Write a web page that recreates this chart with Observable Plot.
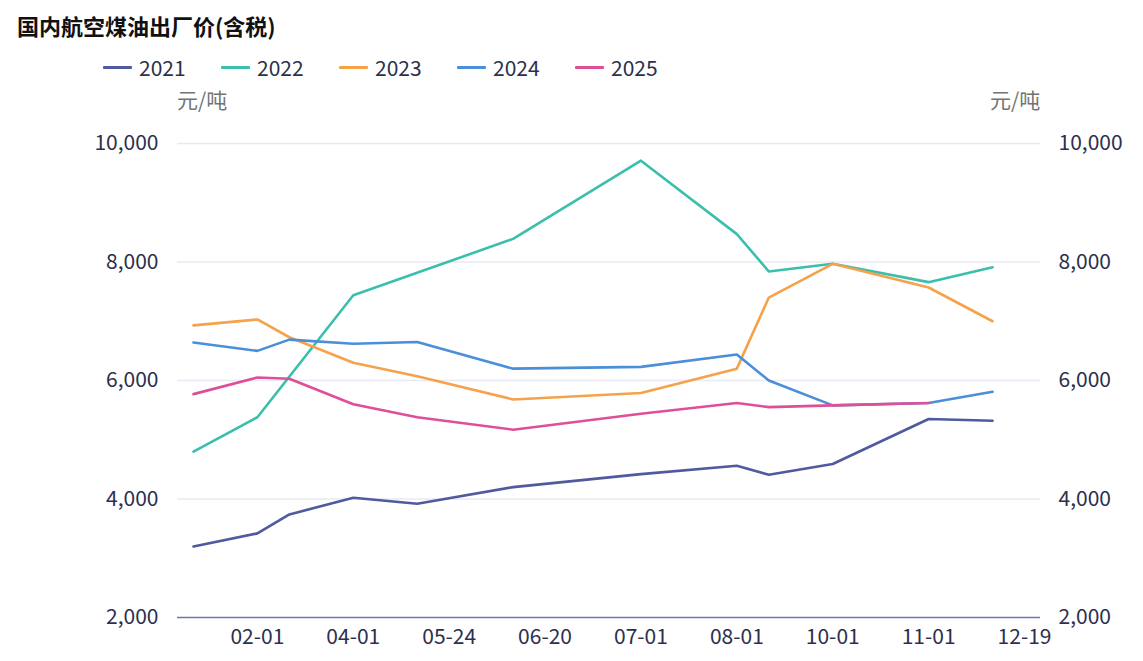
<!DOCTYPE html>
<html>
<head>
<meta charset="utf-8">
<script src="https://cdn.jsdelivr.net/npm/d3@7"></script>
<script src="https://cdn.jsdelivr.net/npm/@observablehq/plot@0.6"></script>
<style>
  html, body { margin: 0; padding: 0; background: #fff; }
  body { width: 1143px; height: 661px; position: relative; overflow: hidden;
         font-family: "Noto Sans CJK SC", "Noto Sans", sans-serif; }
  #title { position: absolute; left: 17px; top: 12px; font-size: 22px; font-weight: bold; color: #111; line-height: 1.2; }
  #legend { position: absolute; left: 103px; top: 54px; height: 26px; display: flex; }
  .item { width: 118px; display: flex; align-items: center; font-size: 21px; color: #2c2f4d; line-height: 26px; }
  .sw { width: 29px; height: 3px; margin-right: 7px; border-radius: 1px; }
  .unit { position: absolute; top: 86px; font-size: 21px; color: #737373; line-height: 26px; }
  #chart { position: absolute; left: 0; top: 80px; }
</style>
</head>
<body>
<div id="title">国内航空煤油出厂价(含税)</div>
<div id="legend"></div>
<div class="unit" style="left:177px">元/吨</div>
<div class="unit" style="left:990px">元/吨</div>
<div id="chart"></div>
<script>
// Category axis (all categories on the x axis)
const categories = ["01-01","01-15","02-01","03-01","03-15","04-01","04-15","05-01","05-24","05-28",
  "06-01","06-20","06-25","06-28","07-01","07-15","07-25","08-01","09-01","09-15",
  "10-01","10-15","10-25","11-01","11-15","12-01","12-19"];
const tickLabels = ["02-01","04-01","05-24","06-20","07-01","08-01","10-01","11-01","12-19"];
// Dates at which values exist
const pointDates = ["01-01","02-01","03-01","04-01","05-01","06-01","07-01","08-01","09-01","10-01","11-01","12-01"];
const years = ["2021","2022","2023","2024","2025"];
const v2021 = [3200, 3420, 3740, 4020, 3920, 4200, 4420, 4560, 4410, 4590, 5350, 5320];
const v2022 = [4800, 5380, null, 7440, null, 8390, 9710, 8470, 7840, 7970, 7660, 7910];
const v2023 = [6930, 7030, 6730, 6300, 6070, 5680, 5790, 6200, 7400, 7970, 7570, 7000];
const v2024 = [6640, 6500, 6690, 6620, 6650, 6200, 6230, 6440, 6000, 5580, 5620, 5810];
const v2025 = [5770, 6050, 6030, 5600, 5380, 5170, 5440, 5620, 5550, 5580, 5620, null];
const yTicks = [2000, 4000, 6000, 8000, 10000];
const colors = ["#4f5a9f", "#3bbfad", "#f5a24b", "#4a8fd8", "#df4f97"];

const seriesValues = [v2021, v2022, v2023, v2024, v2025];
const data = [];
years.forEach((yr, i) => {
  seriesValues[i].forEach((v, j) => {
    if (v != null) data.push({year: yr, date: pointDates[j], value: v});
  });
});

// Legend
const legend = document.getElementById("legend");
years.forEach((yr, i) => {
  const it = document.createElement("div");
  it.className = "item";
  it.innerHTML = `<span class="sw" style="background:${colors[i]}"></span><span>${yr}</span>`;
  legend.appendChild(it);
});

const fmt = d3.format(",");
const chart = Plot.plot({
  width: 1143,
  height: 578,
  marginTop: 63,
  marginBottom: 41,
  marginLeft: 177,
  marginRight: 103,
  style: {fontFamily: '"Noto Sans CJK SC", "Noto Sans", sans-serif', fontSize: "21px", color: "#2c2f4d", background: "transparent"},
  x: {type: "point", domain: categories, padding: 0.5, round: false},
  y: {domain: [2000, 10000]},
  color: {domain: years, range: colors},
  marks: [
    Plot.gridY(yTicks.filter(d => d > 2000), {stroke: "#e9e9f4", strokeOpacity: 1, strokeWidth: 1.5}),
    Plot.axisY(yTicks, {anchor: "left", tickSize: 0, tickPadding: 19, tickFormat: fmt, label: null, fontSize: 21, fill: "#2c2f4d"}),
    Plot.axisY(yTicks, {anchor: "right", tickSize: 0, tickPadding: 18, tickFormat: fmt, label: null, fontSize: 21, fill: "#2c2f4d"}),
    Plot.axisX(tickLabels, {tickSize: 0, tickPadding: 12, label: null, fontSize: 21, fill: "#2c2f4d"}),
    Plot.ruleY([2000], {stroke: "#6b78aa", strokeWidth: 1.5}),
    Plot.line(data, {x: "date", y: "value", z: "year", stroke: "year", strokeWidth: 2.6, strokeLinejoin: "round"})
  ]
});
document.getElementById("chart").appendChild(chart);
</script>
</body>
</html>
